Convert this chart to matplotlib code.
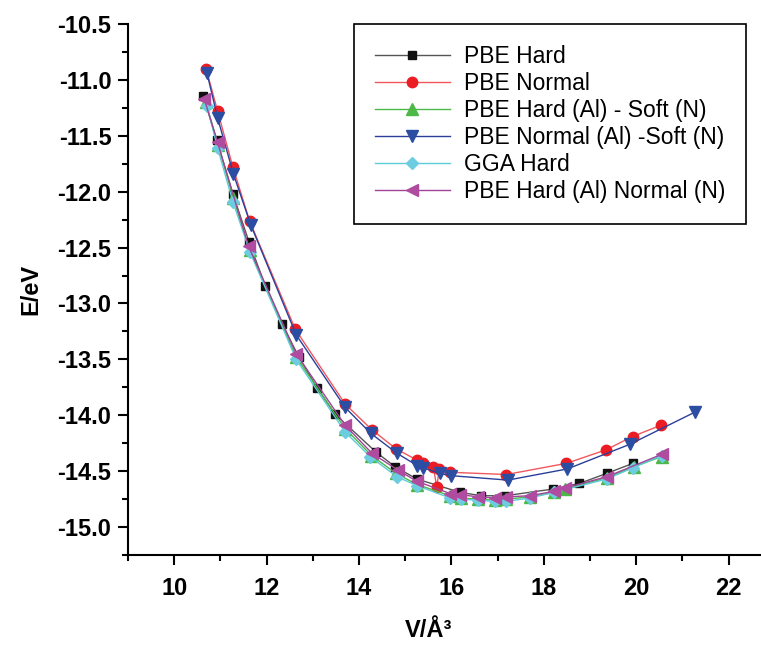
# E-V curves for AlN with different pseudopotentials

import matplotlib.pyplot as plt
from matplotlib.ticker import MultipleLocator

v_pbe_hard = [10.63, 10.92, 11.27, 11.62, 11.97, 12.33, 12.70, 13.10, 13.48, 14.37,
              14.78, 15.25, 16.19, 16.65, 17.16, 18.20, 18.77, 19.36, 19.93]
e_pbe_hard = [-11.14, -11.54, -12.02, -12.45, -12.84, -13.18, -13.48, -13.76, -13.99, -14.33,
              -14.46, -14.57, -14.69, -14.72, -14.72, -14.66, -14.61, -14.52, -14.43]

v_pbe_normal = [10.69, 10.94, 11.27, 11.63, 12.62, 13.70, 14.28, 14.80, 15.25, 15.39,
                15.61, 15.68, 15.74, 15.97, 17.19, 18.49, 19.34, 19.92, 20.53]
e_pbe_normal = [-10.90, -11.28, -11.78, -12.26, -13.23, -13.90, -14.13, -14.30, -14.40, -14.43,
                -14.46, -14.64, -14.48, -14.51, -14.53, -14.43, -14.31, -14.19, -14.09]

v_hard_soft = [10.68, 10.95, 11.28, 11.63, 12.64, 13.70, 14.27, 14.80, 15.26, 15.97,
               16.20, 16.58, 16.94, 17.19, 17.70, 18.22, 18.46, 19.36, 19.95, 20.55]
e_hard_soft = [-11.20, -11.58, -12.06, -12.52, -13.48, -14.12, -14.36, -14.52, -14.62, -14.72,
               -14.74, -14.75, -14.76, -14.75, -14.73, -14.69, -14.66, -14.56, -14.46, -14.37]

v_normal_soft = [10.71, 10.94, 11.28, 11.66, 12.64, 13.70, 14.25, 14.82, 15.26, 15.39,
                 15.75, 15.98, 17.22, 18.51, 19.86, 21.28]
e_normal_soft = [-10.94, -11.34, -11.84, -12.30, -13.28, -13.93, -14.16, -14.34, -14.45, -14.47,
                 -14.52, -14.54, -14.58, -14.48, -14.26, -13.97]

v_gga_hard = [10.71, 10.94, 11.27, 11.64, 12.64, 13.70, 14.24, 14.82, 15.26, 15.97,
              16.20, 16.58, 16.94, 17.19, 17.70, 18.22, 19.36, 19.93, 20.55]
e_gga_hard = [-11.23, -11.61, -12.09, -12.54, -13.50, -14.15, -14.37, -14.55, -14.63, -14.74,
              -14.75, -14.76, -14.77, -14.77, -14.74, -14.69, -14.57, -14.47, -14.36]

v_hard_normal = [10.65, 10.94, 11.61, 12.64, 13.70, 14.28, 14.84, 15.25, 15.97, 16.19,
                 16.58, 16.94, 17.19, 17.70, 18.22, 18.46, 19.36, 20.55]
e_hard_normal = [-11.17, -11.56, -12.49, -13.45, -14.09, -14.34, -14.49, -14.59, -14.70, -14.71,
                 -14.73, -14.74, -14.73, -14.72, -14.68, -14.65, -14.55, -14.35]

series = [
    (v_pbe_hard, e_pbe_hard, 'PBE Hard', 's', '#111111', '#555555', 5.5),
    (v_pbe_normal, e_pbe_normal, 'PBE Normal', 'o', '#ec1c24', '#f0585e', 7.5),
    (v_hard_soft, e_hard_soft, 'PBE Hard (Al) - Soft (N)', '^', '#4cb848', '#4cb848', 8),
    (v_normal_soft, e_normal_soft, 'PBE Normal (Al) -Soft (N)', 'v', '#2b4ea2', '#2b3f9a', 8),
    (v_gga_hard, e_gga_hard, 'GGA Hard', 'D', '#6dcde0', '#5ccbd8', 6),
    (v_hard_normal, e_hard_normal, 'PBE Hard (Al) Normal (N)', '<', '#b04ca0', '#a0449a', 8),
]

fig = plt.figure(figsize=(7.61, 6.46), dpi=100)
ax = fig.add_axes([128 / 761, 1 - 555 / 646, 1 - 128 / 761, (555 - 24) / 646])

for v, e, lab, mk, mc, lc, ms in series:
    ax.plot(v, e, '-', color=lc, lw=1.0, marker=mk, ms=ms,
            mfc=mc, mec=mc, label=lab)

ax.set_xlim(9, 22.7)
ax.set_ylim(-15.25, -10.5)

ax.spines['right'].set_visible(False)
ax.spines['top'].set_visible(False)
ax.spines['left'].set_linewidth(1.5)
ax.spines['bottom'].set_linewidth(1.5)

ax.xaxis.set_major_locator(MultipleLocator(2))
ax.xaxis.set_minor_locator(MultipleLocator(1))
ax.yaxis.set_major_locator(MultipleLocator(0.5))
ax.yaxis.set_minor_locator(MultipleLocator(0.25))
ax.tick_params(which='major', direction='out', length=7, width=1.5)
ax.tick_params(which='minor', direction='out', length=4, width=1.5)
ax.tick_params(axis='x', pad=9)
ax.tick_params(axis='y', pad=5)
ax.set_yticklabels([f'{t:.1f}' for t in ax.get_yticks()])

for t in ax.get_yticklabels():
    t.set_fontfamily('Liberation Sans')
    t.set_fontweight('bold')
    t.set_fontsize(17)
for t in ax.get_xticklabels():
    t.set_fontfamily('Liberation Sans')
    t.set_fontweight('bold')
    t.set_fontsize(17)

ax.set_ylabel('E/eV', fontfamily='Liberation Sans', fontweight='bold', fontsize=17)
ax.set_xlabel('V/Å³', fontfamily='Liberation Sans', fontweight='bold', fontsize=17)
ax.yaxis.set_label_coords(-0.135, 0.5)
ax.xaxis.set_label_coords(0.475, -0.12)

leg = ax.legend(loc='upper right', bbox_to_anchor=(746 / 761, 1 - 24 / 646),
                bbox_transform=fig.transFigure, borderaxespad=0,
                prop={'family': 'Liberation Sans', 'size': 16.5},
                handlelength=3.3, labelspacing=0.18, borderpad=0.9,
                handletextpad=0.6, fancybox=False, framealpha=1)
leg.get_frame().set_edgecolor('black')
leg.get_frame().set_linewidth(1.2)

fig.savefig('out.png', dpi=100)
